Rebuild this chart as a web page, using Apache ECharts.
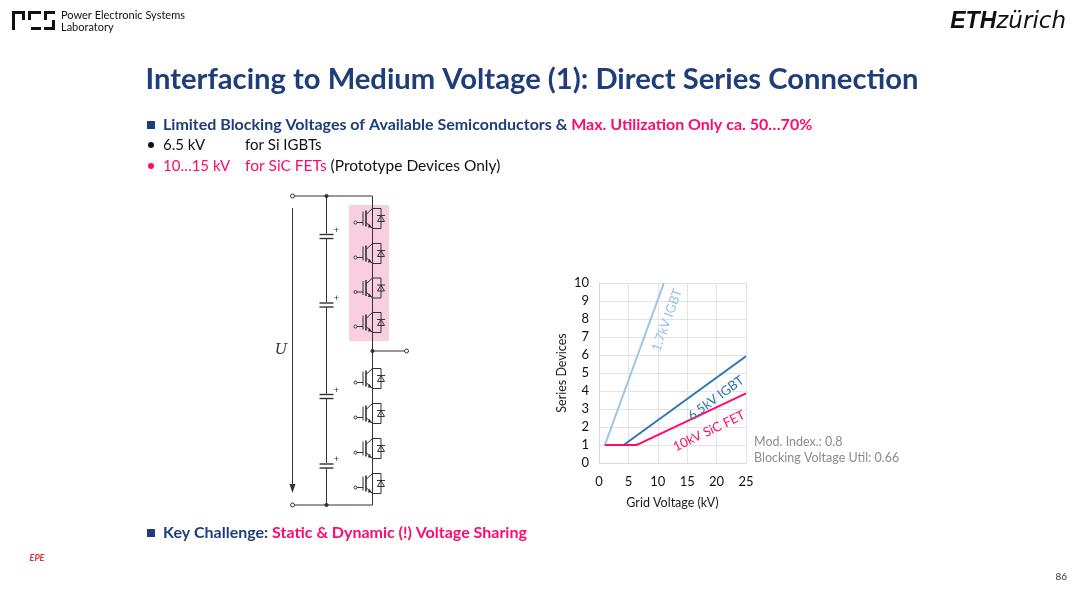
<!DOCTYPE html>
<html style="height: 100%">
<head>
    <meta charset="utf-8">
</head>
<body style="height: 100%; margin: 0">
<div id="container" style="width: 1080px; height: 592px"></div>
<script type="text/javascript" src="https://cdn.jsdelivr.net/npm/echarts@6/dist/echarts.min.js"></script>
<script type="text/javascript">
    // chart data
    var xTicks = [0, 5, 10, 15, 20, 25];
    var yTicks = [0, 1, 2, 3, 4, 5, 6, 7, 8, 9, 10];
    var igbt17 = [[1, 1], [1.1, 1], [11.04, 10]];
    var igbt65 = [[1, 1], [4.2, 1], [25, 5.93]];
    var sicFet10 = [[1, 1], [6.3, 1], [6.9, 1.08], [25, 3.87]];
    var seriesNames = ['1.7kV IGBT', '6.5kV IGBT', '10kV SiC FET'];
    var noteLines = ['Mod. Index.: 0.8', 'Blocking Voltage Util: 0.66'];

    var FONT = 'Lato';
    var DARK = '#1f3d7a';
    var PINK = '#ff0a6c';
    var LBLUE = '#9dc3e6';
    var MBLUE = '#2e75b6';

    var dom = document.getElementById("container");
    var myChart = echarts.init(dom);

    // --- schematic (drawn with plain graphic shapes) ---
    var circ = [];
    function line(x1, y1, x2, y2, w) {
        circ.push({type: 'line', shape: {x1: x1, y1: y1, x2: x2, y2: y2},
            style: {stroke: '#333', lineWidth: w || 1}, z: 5});
    }
    function dot(x, y, r, fill) {
        circ.push({type: 'circle', shape: {cx: x, cy: y, r: r},
            style: {fill: fill ? '#333' : '#fff', stroke: '#333', lineWidth: 1}, z: 6});
    }
    var colX = 372.5, capX = 326.5, leftX = 292.5;
    circ.push({type: 'rect', shape: {x: 349, y: 205, width: 40, height: 136},
        style: {fill: '#f9cfe0'}, z: 1});
    line(leftX, 196, colX, 196);
    line(leftX, 505, colX, 505);
    dot(leftX, 196, 2); dot(leftX, 505, 2);
    dot(capX, 196, 1.6, true); dot(capX, 505, 1.6, true);
    // capacitors
    var caps = [236.5, 305, 396.5, 466];
    line(capX, 196, capX, 505);
    caps.forEach(function (cy) {
        circ.push({type: 'rect', shape: {x: capX - 7, y: cy - 3, width: 14, height: 5},
            style: {fill: '#fff'}, z: 5});
        line(capX - 7, cy - 2, capX + 7, cy - 2, 1.4);
        line(capX - 7, cy + 2, capX + 7, cy + 2, 1.4);
        circ.push({type: 'text', x: capX + 10, y: cy - 6,
            style: {text: '+', fontSize: 9, fill: '#333', align: 'center', verticalAlign: 'middle'}, z: 6});
    });
    // U arrow
    line(leftX, 208, leftX, 488);
    circ.push({type: 'polygon', shape: {points: [[leftX - 3, 484], [leftX + 3, 484], [leftX, 493]]},
        style: {fill: '#333'}, z: 5});
    circ.push({type: 'text', x: 281, y: 350, style: {text: 'U', fontSize: 15, fontStyle: 'italic',
        fontFamily: 'DejaVu Serif', fill: '#333', align: 'center', verticalAlign: 'middle'}, z: 6});
    // switch column
    line(colX, 196, colX, 505);
    line(colX, 351, 406.5, 351);
    dot(colX, 351, 1.6, true); dot(406.5, 351, 2);
    var sw = [218.5, 253.5, 288, 322.5, 378.5, 413.5, 448.5, 483.5];
    sw.forEach(function (cy) {
        circ.push({type: 'rect', shape: {x: colX - 1, y: cy - 9, width: 3, height: 18},
            style: {fill: cy < 345 ? '#f9cfe0' : '#fff'}, z: 4});
        line(363, cy - 7, 363, cy + 7);
        line(366, cy - 8, 366, cy + 8, 1.6);
        line(357, cy + 4, 363, cy + 4);
        dot(355.5, cy + 4, 1.5);
        line(366, cy - 4, colX, cy - 10);
        line(366, cy + 4, colX, cy + 10);
        circ.push({type: 'polygon', shape: {points: [[368, cy + 9], [372, cy + 9], [369, cy + 5]]},
            style: {fill: '#333'}, z: 6});
        line(colX, cy - 10, 381, cy - 10);
        line(381, cy - 10, 381, cy + 10);
        line(colX, cy + 10, 381, cy + 10);
        circ.push({type: 'polygon', shape: {points: [[377.5, cy + 3], [384.5, cy + 3], [381, cy - 3]]},
            style: {fill: 'none', stroke: '#333', lineWidth: 1}, z: 6});
        line(377, cy - 3, 385, cy - 3);
    });

    // --- slide text ---
    var txt = [
        {type: 'rect', shape: {x: 12, y: 11, width: 3, height: 19}, style: {fill: '#111'}},
        {type: 'rect', shape: {x: 12, y: 11, width: 13, height: 3}, style: {fill: '#111'}},
        {type: 'rect', shape: {x: 22, y: 11, width: 3, height: 9}, style: {fill: '#111'}},
        {type: 'rect', shape: {x: 28, y: 11, width: 13, height: 3}, style: {fill: '#111'}},
        {type: 'rect', shape: {x: 28, y: 11, width: 3, height: 9}, style: {fill: '#111'}},
        {type: 'rect', shape: {x: 31, y: 27, width: 10, height: 3}, style: {fill: '#111'}},
        {type: 'rect', shape: {x: 44, y: 11, width: 11, height: 3}, style: {fill: '#111'}},
        {type: 'rect', shape: {x: 44, y: 11, width: 3, height: 9}, style: {fill: '#111'}},
        {type: 'rect', shape: {x: 52, y: 20, width: 3, height: 10}, style: {fill: '#111'}},
        {type: 'rect', shape: {x: 44, y: 27, width: 11, height: 3}, style: {fill: '#111'}},
        {type: 'text', x: 61, y: 21, style: {text: 'Power Electronic Systems\nLaboratory', fontSize: 11,
            lineHeight: 12, fontFamily: FONT, fill: '#111', verticalAlign: 'middle'}},
        {type: 'text', x: 1066, y: 22, style: {text: '{a|ETH}{b|zürich}', align: 'right', verticalAlign: 'middle',
            rich: {
                a: {fontSize: 23, fontWeight: 'bold', fontStyle: 'italic', fontFamily: 'Liberation Sans', fill: '#111'},
                b: {fontSize: 23, fontStyle: 'italic', fontFamily: 'DejaVu Sans', fontWeight: 200, fill: '#111'}
            }}},
        {type: 'text', x: 532, y: 80, style: {text: 'Interfacing to Medium Voltage (1): Direct Series Connection',
            fontSize: 29.2, fontWeight: 'bold', fontFamily: FONT, fill: DARK, align: 'center', verticalAlign: 'middle'}},
        {type: 'rect', shape: {x: 147, y: 121, width: 8, height: 8}, style: {fill: DARK}},
        {type: 'text', x: 163, y: 125, style: {text: '{a|Limited Blocking Voltages of Available Semiconductors & }{b|Max. Utilization Only ca. 50…70%}',
            verticalAlign: 'middle', rich: {
                a: {fontSize: 16, fontWeight: 'bold', fontFamily: FONT, fill: DARK},
                b: {fontSize: 16, fontWeight: 'bold', fontFamily: FONT, fill: PINK}
            }}},
        {type: 'circle', shape: {cx: 151, cy: 145, r: 3}, style: {fill: '#111'}},
        {type: 'text', x: 163, y: 145, style: {text: '6.5 kV', fontSize: 15, fontFamily: FONT, fill: '#111', verticalAlign: 'middle'}},
        {type: 'text', x: 245, y: 145, style: {text: 'for Si IGBTs', fontSize: 15, fontFamily: FONT, fill: '#111', verticalAlign: 'middle'}},
        {type: 'circle', shape: {cx: 151, cy: 166, r: 3}, style: {fill: PINK}},
        {type: 'text', x: 163, y: 166, style: {text: '10…15 kV', fontSize: 15, fontFamily: FONT, fill: PINK, verticalAlign: 'middle'}},
        {type: 'text', x: 245, y: 166, style: {text: '{b|for SiC FETs }{a|(Prototype Devices Only)}', verticalAlign: 'middle',
            rich: {
                a: {fontSize: 15.5, fontFamily: FONT, fill: '#111'},
                b: {fontSize: 15.5, fontFamily: FONT, fill: PINK}
            }}},
        {type: 'rect', shape: {x: 147, y: 529, width: 8, height: 8}, style: {fill: DARK}},
        {type: 'text', x: 163, y: 533, style: {text: '{a|Key Challenge: }{b|Static & Dynamic (!) Voltage Sharing}',
            verticalAlign: 'middle', rich: {
                a: {fontSize: 16, fontWeight: 'bold', fontFamily: FONT, fill: DARK},
                b: {fontSize: 16, fontWeight: 'bold', fontFamily: FONT, fill: PINK}
            }}},
        {type: 'text', x: 37, y: 558, style: {text: 'EPE', fontSize: 9, fontStyle: 'italic', fontWeight: 'bold',
            fontFamily: FONT, fill: '#e03030', align: 'center', verticalAlign: 'middle'}},
        {type: 'text', x: 1067, y: 577, style: {text: '86', fontSize: 10, fontFamily: FONT, fill: '#333',
            align: 'right', verticalAlign: 'middle'}},
        // curve labels and note
        {type: 'text', x: 667, y: 320, rotation: 70 * Math.PI / 180, z: 10, style: {text: seriesNames[0], fontSize: 13,
            fontFamily: FONT, fill: LBLUE, align: 'center', verticalAlign: 'middle'}},
        {type: 'text', x: 716, y: 398, rotation: 36 * Math.PI / 180, z: 10, style: {text: seriesNames[1], fontSize: 13,
            fontFamily: FONT, fill: MBLUE, align: 'center', verticalAlign: 'middle'}},
        {type: 'text', x: 709, y: 431, rotation: 25.5 * Math.PI / 180, z: 10, style: {text: seriesNames[2], fontSize: 13,
            fontFamily: FONT, fill: PINK, align: 'center', verticalAlign: 'middle'}},
        {type: 'text', x: 754, y: 450, style: {text: noteLines.join('\n'), fontSize: 12.5, lineHeight: 16,
            fontFamily: FONT, fill: '#8c8c8c', verticalAlign: 'middle'}}
    ];

    var axisCommon = {
        type: 'value',
        nameLocation: 'middle',
        nameTextStyle: {fontFamily: FONT, fontSize: 12.5, color: '#1a1a1a'},
        axisLine: {show: true, lineStyle: {color: '#d9d9d9'}},
        axisTick: {show: false},
        splitLine: {show: true, lineStyle: {color: '#e3e3e3', width: 1}}
    };

    var option = {
        backgroundColor: '#fff',
        animation: false,
        grid: {left: 599, right: 334, top: 283, bottom: 129, containLabel: false},
        xAxis: Object.assign({}, axisCommon, {
            min: xTicks[0], max: xTicks[xTicks.length - 1], interval: 5,
            name: 'Grid Voltage (kV)', nameGap: 33,
            axisLabel: {fontFamily: FONT, fontSize: 13, color: '#111', margin: 12}
        }),
        yAxis: Object.assign({}, axisCommon, {
            min: yTicks[0], max: yTicks[yTicks.length - 1], interval: 1,
            name: 'Series Devices', nameGap: 31,
            axisLabel: {fontFamily: FONT, fontSize: 13, color: '#111', margin: 10}
        }),
        series: [
            {name: seriesNames[0], type: 'line', data: igbt17, symbol: 'none',
                lineStyle: {color: LBLUE, width: 2}, clip: true},
            {name: seriesNames[1], type: 'line', data: igbt65, symbol: 'none',
                lineStyle: {color: MBLUE, width: 2}},
            {name: seriesNames[2], type: 'line', data: sicFet10, symbol: 'none',
                lineStyle: {color: PINK, width: 2}}
        ],
        graphic: circ.concat(txt)
    };
    myChart.setOption(option);
</script>
</body>
</html>
